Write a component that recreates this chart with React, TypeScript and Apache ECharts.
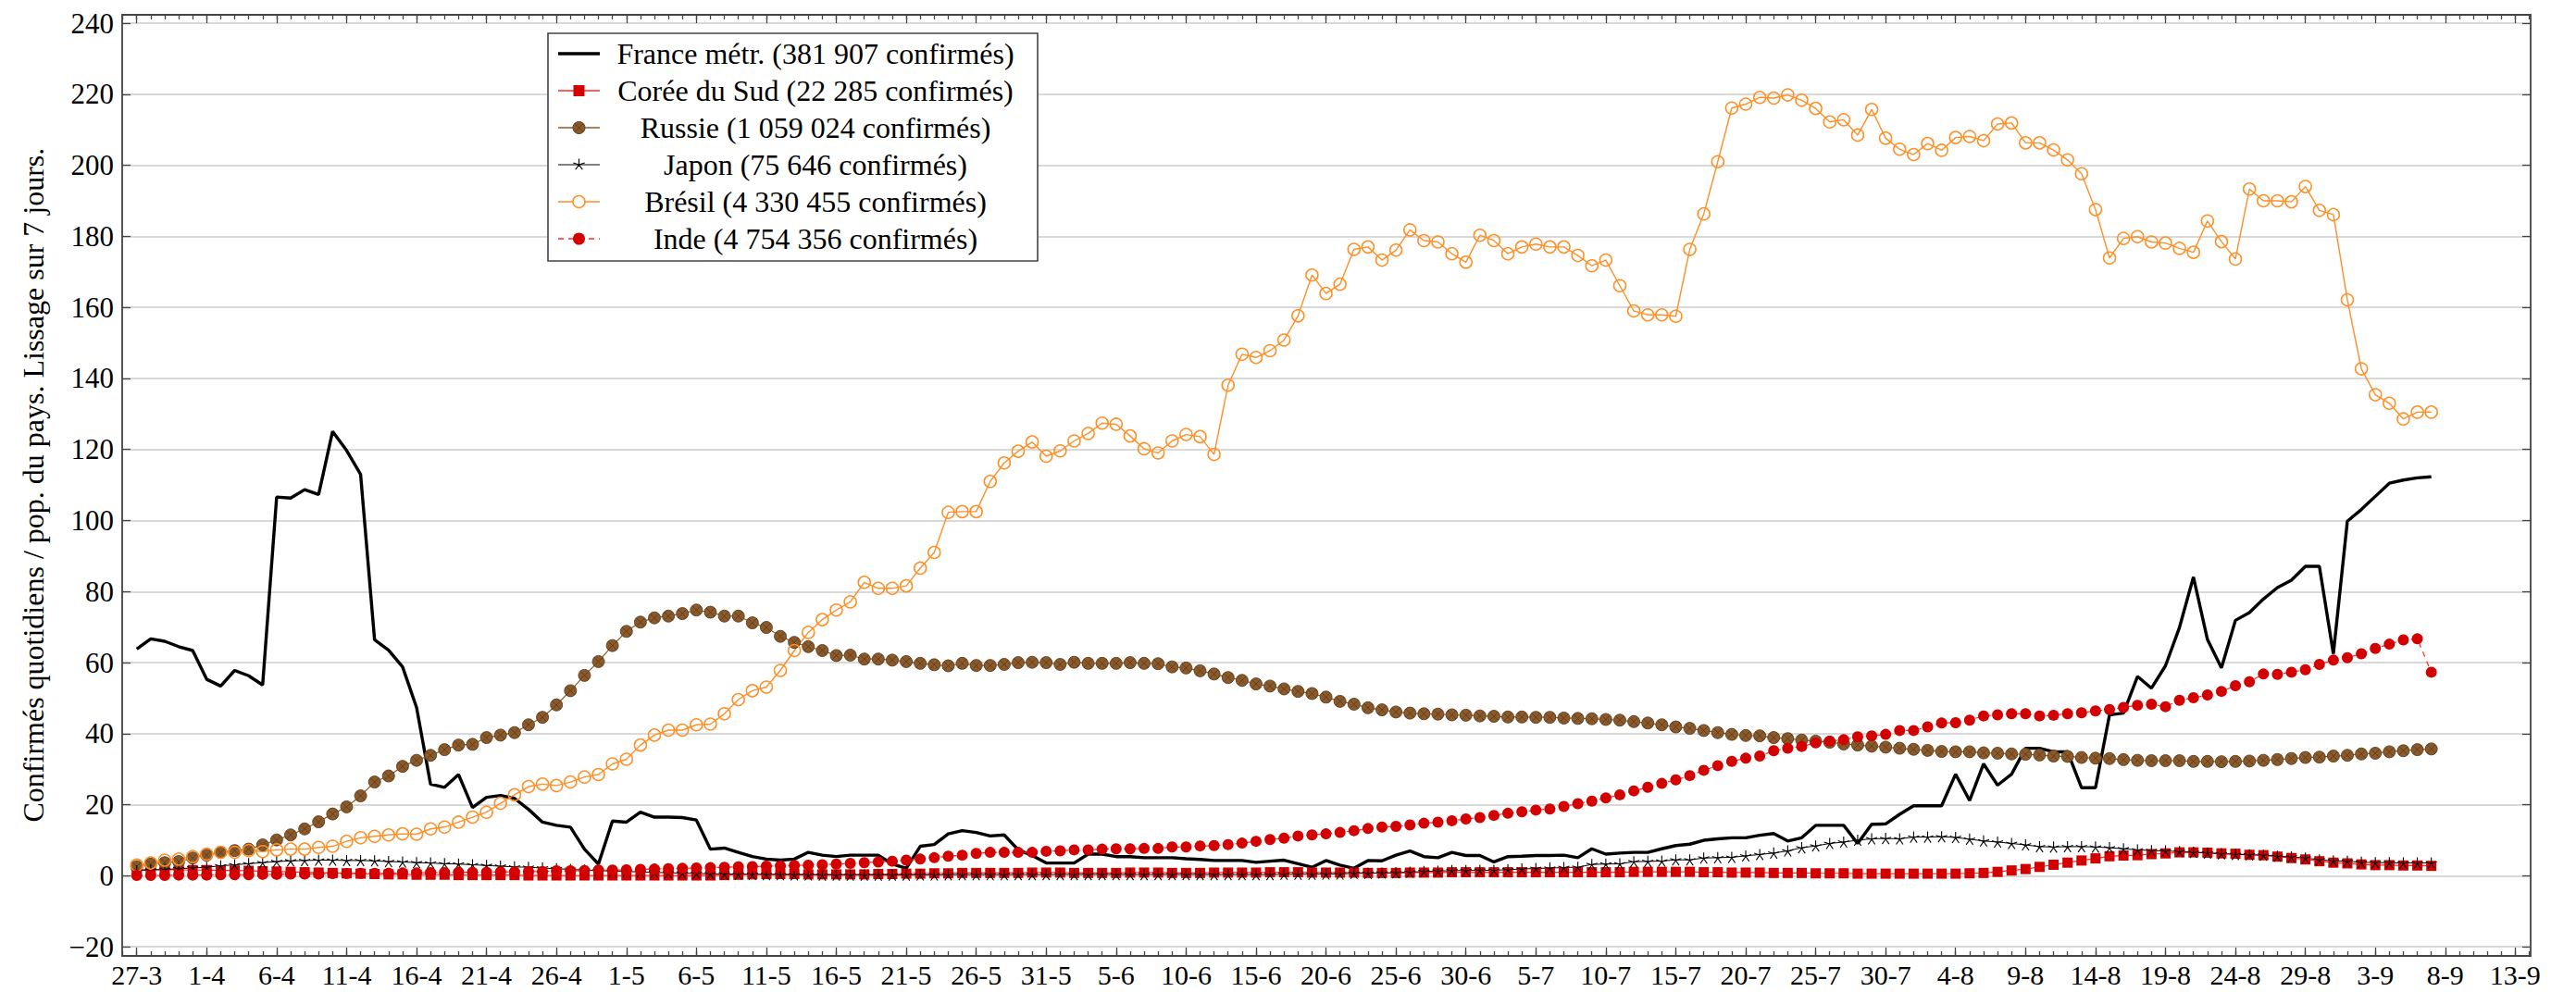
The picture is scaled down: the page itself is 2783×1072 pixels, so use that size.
import React, { useEffect, useRef } from 'react';
import * as echarts from 'echarts';

// ---- Data (day index 0 = 27-3, one value per day) ----
const xTickDays = [0,5,10,15,20,25,30,35,40,45,50,55,60,65,70,75,80,85,90,95,100,105,110,115,120,125,130,135,140,145,150,155,160,165,170];
const xTickLabels = ['27-3','1-4','6-4','11-4','16-4','21-4','26-4','1-5','6-5','11-5','16-5','21-5','26-5','31-5','5-6','10-6','15-6','20-6','25-6','30-6','5-7','10-7','15-7','20-7','25-7','30-7','4-8','9-8','14-8','19-8','24-8','29-8','3-9','8-9','13-9'];

const seriesNames = [
  'France métr. (381 907 confirmés)',
  'Corée du Sud (22 285 confirmés)',
  'Russie (1 059 024 confirmés)',
  'Japon (75 646 confirmés)',
  'Brésil (4 330 455 confirmés)',
  'Inde (4 754 356 confirmés)',
];

const france = [
  63.8,66.7,66.0,64.5,63.4,55.3,53.4,57.8,56.3,53.7,
  106.6,106.3,108.7,107.3,125.1,119.7,113.0,66.4,63.5,58.8,
  47.4,25.8,24.9,28.5,19.2,22.1,22.6,21.8,18.7,15.1,
  14.2,13.7,7.5,3.3,15.4,15.1,17.9,16.5,16.5,16.4,
  15.7,7.5,7.8,6.6,5.4,4.7,4.4,4.7,6.6,5.8,
  5.4,5.8,5.8,5.8,3.3,2.1,8.3,8.8,11.8,12.7,
  12.2,11.2,11.5,7.3,5.7,3.6,3.6,3.6,6.1,6.1,
  5.4,5.4,5.1,5.1,5.1,4.8,4.6,4.3,4.3,4.3,
  3.8,4.1,4.4,3.4,2.4,4.3,3.0,2.1,4.3,4.2,
  5.8,7.0,5.4,5.1,6.6,5.7,5.7,3.9,5.4,5.5,
  5.7,5.7,5.8,5.1,7.6,6.1,6.4,6.6,6.6,7.6,
  8.5,8.9,10.0,10.4,10.7,10.7,11.4,11.9,9.8,10.7,
  14.2,14.2,14.2,9.1,14.5,14.6,17.3,19.7,19.7,19.7,
  28.6,21.2,31.5,25.5,28.6,35.9,35.9,34.9,34.9,24.8,
  24.8,45.3,45.8,56.1,52.8,59.1,69.9,84.1,66.5,58.5,
  71.9,74.1,77.9,81.1,83.2,87.1,87.1,62.5,99.8,103.1,
  106.8,110.5,111.4,112.0,112.3,
];

const coree = [
  1.8,1.8,1.7,1.7,1.6,1.6,1.5,1.5,1.4,1.3,
  1.2,1.1,1.0,0.9,0.8,0.7,0.6,0.5,0.4,0.4,
  0.3,0.3,0.3,0.2,0.2,0.2,0.2,0.2,0.1,0.1,
  0.1,0.1,0.1,0.1,0.1,0.1,0.1,0.1,0.1,0.1,
  0.1,0.1,0.2,0.3,0.4,0.5,0.5,0.5,0.4,0.4,
  0.4,0.4,0.4,0.5,0.5,0.6,0.6,0.7,0.7,0.8,
  0.8,0.8,0.8,0.8,0.9,0.9,0.9,0.8,0.8,0.8,
  0.8,0.9,0.9,0.9,0.8,0.8,0.8,0.9,0.9,0.9,
  0.9,1.0,1.0,1.0,0.9,0.9,0.9,0.9,0.8,0.8,
  0.8,0.9,0.9,0.9,1.0,1.0,1.0,1.0,1.0,1.0,
  1.0,1.0,1.0,1.0,1.0,1.0,1.0,1.1,1.1,1.1,
  1.1,1.1,1.0,1.0,0.9,0.9,0.9,0.8,0.8,0.8,
  0.7,0.7,0.7,0.6,0.6,0.6,0.6,0.6,0.6,0.6,
  0.6,0.7,0.8,1.1,1.5,1.9,2.5,3.1,3.7,4.3,
  4.9,5.5,5.7,5.8,6.1,6.3,6.6,6.6,6.5,6.3,
  6.2,5.9,5.8,5.4,5.0,4.6,4.1,3.7,3.5,3.2,
  3.0,3.0,2.9,2.9,2.8,
];

const russie = [
  2.6,3.3,3.7,4.0,5.0,5.8,6.6,7.1,7.5,8.7,
  10.1,11.5,13.2,15.2,17.4,19.4,22.5,26.4,28.1,30.8,
  32.5,33.9,35.5,36.8,37.0,38.9,39.6,40.3,42.5,44.6,
  48.1,52.1,56.4,60.3,64.8,68.8,71.4,72.6,73.1,73.8,
  74.8,74.2,73.1,73.1,71.2,69.9,67.4,65.7,64.5,63.4,
  62.0,62.1,61.0,61.0,60.7,60.3,59.8,59.4,59.1,59.8,
  59.2,59.2,59.5,60.0,60.1,60.0,59.5,60.1,59.8,59.8,
  59.8,60.0,59.8,59.7,58.8,58.5,57.7,56.8,55.8,55.0,
  54.0,53.4,52.6,51.9,51.3,50.3,49.1,48.3,47.3,46.7,
  46.1,45.8,45.6,45.5,45.3,45.2,45.0,44.9,44.7,44.7,
  44.6,44.6,44.4,44.3,44.2,44.0,43.8,43.4,43.0,42.5,
  41.9,41.5,40.9,40.3,39.8,39.5,39.4,38.9,38.6,38.2,
  37.9,37.6,37.1,36.8,36.5,36.2,35.9,35.6,35.3,35.0,
  34.9,34.9,34.6,34.5,34.3,34.2,34.0,33.7,33.6,33.3,
  33.1,33.0,32.7,32.5,32.4,32.4,32.4,32.2,32.2,32.1,
  32.2,32.3,32.5,32.7,33.0,33.3,33.4,33.7,33.9,34.3,
  34.5,34.9,35.2,35.5,35.7,
];

const japon = [
  1.4,1.6,1.8,2.0,2.2,2.4,2.8,3.1,3.4,3.7,
  4.0,4.2,4.3,4.4,4.4,4.3,4.3,4.2,4.0,3.9,
  3.7,3.6,3.4,3.3,3.1,2.9,2.7,2.5,2.4,2.2,
  2.0,1.8,1.6,1.5,1.3,1.2,1.1,0.95,0.85,0.75,
  0.65,0.55,0.5,0.45,0.4,0.35,0.3,0.28,0.25,0.22,
  0.2,0.2,0.2,0.2,0.2,0.22,0.25,0.25,0.28,0.3,
  0.3,0.3,0.3,0.32,0.32,0.32,0.35,0.35,0.35,0.35,
  0.35,0.35,0.35,0.35,0.35,0.35,0.35,0.34,0.34,0.34,
  0.34,0.34,0.43,0.43,0.43,0.5,0.5,0.7,0.7,0.78,
  0.86,1.03,1.2,1.3,1.47,1.47,1.55,1.55,1.72,1.9,
  2.07,2.16,2.33,2.41,3.2,3.3,3.36,3.97,4.05,4.14,
  4.48,4.48,5.0,5.1,5.2,5.6,6.0,6.4,7.0,7.9,
  8.4,9.1,9.5,10.0,10.4,10.5,10.4,10.9,10.9,11.0,
  10.8,10.3,9.8,9.5,9.1,8.7,8.2,8.1,8.2,8.2,
  8.1,7.9,7.6,7.3,7.1,7.0,6.8,6.6,6.4,6.2,
  6.0,5.9,5.8,5.5,5.3,5.0,4.5,4.2,4.1,3.8,
  3.7,3.7,3.6,3.6,3.6,
];

const bresil = [
  3.0,3.6,4.4,4.7,5.4,6.1,6.6,6.6,7.1,6.8,
  7.3,7.5,7.5,8.0,8.3,9.7,10.7,11.1,11.5,11.8,
  11.7,13.2,13.7,15.1,16.5,17.9,20.4,22.8,25.1,25.8,
  25.4,26.4,27.8,28.5,31.5,32.8,36.8,39.6,41.0,41.0,
  42.5,42.7,45.6,49.6,52.1,53.1,57.8,63.4,68.5,72.1,
  74.8,77.1,82.6,80.9,80.9,81.6,86.6,91.0,102.3,102.5,
  102.5,111.0,116.2,119.5,122.1,118.1,119.6,122.4,124.5,127.4,
  127.1,123.8,120.2,119.0,122.4,124.2,123.6,118.6,138.1,146.8,
  145.9,147.8,150.8,157.6,169.1,163.9,166.5,176.3,177.0,173.3,
  176.1,181.8,178.8,178.4,175.1,172.7,180.3,178.8,175.1,177.0,
  177.8,177.0,177.0,174.6,171.7,173.3,166.1,159.0,157.9,157.9,
  157.5,176.3,186.3,201.0,216.1,217.2,219.1,218.9,219.8,218.3,
  216.0,212.2,212.8,208.5,215.7,207.6,204.5,203.0,206.1,204.2,
  207.8,208.1,206.9,211.6,211.9,206.3,206.3,204.3,201.5,197.6,
  187.5,173.9,179.4,179.9,178.4,178.1,176.6,175.5,184.3,178.5,
  173.6,193.3,190.0,190.0,189.7,194.0,187.3,186.1,162.1,142.7,
  135.4,133.0,128.6,130.5,130.5,
];

const inde = [
  0.1,0.1,0.1,0.2,0.2,0.2,0.3,0.3,0.3,0.4,
  0.4,0.5,0.5,0.5,0.6,0.6,0.7,0.7,0.7,0.8,
  0.8,0.9,0.9,1.0,1.0,1.0,1.1,1.1,1.2,1.2,
  1.4,1.4,1.5,1.6,1.6,1.7,1.8,1.9,2.0,2.1,
  2.2,2.3,2.4,2.5,2.6,2.7,2.8,2.9,3.0,3.1,
  3.3,3.5,3.7,3.9,4.1,4.4,4.7,5.1,5.5,5.8,
  6.3,6.6,6.6,6.6,6.6,6.9,7.0,7.3,7.3,7.5,
  7.6,7.6,7.7,7.7,8.1,8.1,8.4,8.5,8.8,9.2,
  9.7,10.2,10.6,11.2,11.5,11.8,12.2,12.7,13.3,13.7,
  13.9,14.3,14.8,15.1,15.5,16.0,16.4,17.0,17.6,18.0,
  18.5,18.8,19.5,20.3,21.0,21.9,22.8,23.9,24.9,26.0,
  27.0,28.2,29.7,31.0,32.2,33.1,33.7,35.2,35.9,36.4,
  37.4,37.9,38.3,39.1,39.4,39.8,40.9,40.9,41.9,43.0,
  43.1,43.8,45.0,45.3,45.6,45.6,45.0,45.2,45.6,45.9,
  46.4,46.8,47.4,48.0,48.3,47.6,49.4,50.1,50.9,51.9,
  53.5,54.6,56.8,56.7,57.3,58.0,59.5,60.7,61.4,62.5,
  64.0,65.2,66.4,66.7,57.3,
];

// ---- Layout / style ----
const W = 2783;
const H = 1072;
const FRAME = { left: 132, right: 2734, top: 16, bottom: 1033 };
const GRID_TOP = 25;
const GRID_BOTTOM = 1023.2;
const X_MIN = -1.04;
const X_MAX = 171.1;
const FONT = 'Liberation Serif, DejaVu Serif, serif';
const C_FRAME = '#444444';
const C_GRID = '#cccccc';
const C_BROWN = '#8a5a2c';
const C_BROWN_DARK = '#5e3b17';
const C_ORANGE = '#ff8f26';
const C_RED = '#d40000';
const C_RED_LINE = '#ff2a2a';

const STAR_PATH = 'path://M0 -10 L0 0 M9.51 -3.09 L0 0 M5.88 8.09 L0 0 M-5.88 8.09 L0 0 M-9.51 -3.09 L0 0';
const HATCH_CIRCLE = 'path://M10 0 A10 10 0 1 1 -10 0 A10 10 0 1 1 10 0 Z M-7 -7 L7 7 M7 -7 L-7 7';

const toXY = (arr: number[]) => arr.map((v, i) => [i, v]);
const xLabelFor = (v: number) => {
  const i = xTickDays.indexOf(Math.round(v));
  return i >= 0 ? xTickLabels[i] : '';
};
const allDays: number[] = [];
for (let d = -1; d <= 171; d++) allDays.push(d);

function xAxisDef(pos: 'top' | 'bottom', minor: boolean, labels: boolean) {
  return {
    type: 'value',
    position: pos,
    min: X_MIN,
    max: X_MAX,
    offset: pos === 'bottom' ? FRAME.bottom - GRID_BOTTOM : GRID_TOP - FRAME.top,
    axisLine: { show: false, onZero: false },
    splitLine: { show: false },
    axisTick: {
      show: true,
      inside: true,
      length: minor ? 5 : 9,
      customValues: minor ? allDays : xTickDays,
      lineStyle: { color: C_FRAME, width: 1.3 },
    },
    axisLabel: {
      show: labels,
      customValues: xTickDays,
      formatter: (v: number) => xLabelFor(v),
      fontFamily: FONT,
      fontSize: 30,
      color: '#000',
      margin: 5,
      hideOverlap: false,
    },
  };
}

function legendGraphics() {
  const els: any[] = [];
  const bx = 592, by = 36, bw = 529, bh = 246;
  els.push({
    type: 'rect', shape: { x: bx, y: by, width: bw, height: bh },
    style: { fill: '#fff', stroke: C_FRAME, lineWidth: 1.6 }, z: 100,
  });
  const rows = [58, 98, 138, 178, 218, 258];
  const lx1 = 603, lx2 = 648, mx = 625.5, tx = 881;
  const lineStyles = [
    { stroke: '#000', lineWidth: 3.4 },
    { stroke: C_RED_LINE, lineWidth: 1.4 },
    { stroke: C_BROWN, lineWidth: 1.4 },
    { stroke: '#000', lineWidth: 1.2 },
    { stroke: C_ORANGE, lineWidth: 1.6 },
    { stroke: C_RED_LINE, lineWidth: 1.4, lineDash: [6, 5] },
  ];
  rows.forEach((y, i) => {
    els.push({ type: 'line', shape: { x1: lx1, y1: y, x2: lx2, y2: y }, style: lineStyles[i], z: 101 });
    if (i === 1) {
      els.push({ type: 'rect', shape: { x: mx - 6, y: y - 6, width: 12, height: 12 }, style: { fill: C_RED }, z: 102 });
    } else if (i === 2) {
      els.push({ type: 'circle', shape: { cx: mx, cy: y, r: 6.5 }, style: { fill: C_BROWN, stroke: C_BROWN_DARK, lineWidth: 1 }, z: 102 });
      els.push({ type: 'line', shape: { x1: mx - 4.5, y1: y - 4.5, x2: mx + 4.5, y2: y + 4.5 }, style: { stroke: C_BROWN_DARK, lineWidth: 1 }, z: 103 });
      els.push({ type: 'line', shape: { x1: mx + 4.5, y1: y - 4.5, x2: mx - 4.5, y2: y + 4.5 }, style: { stroke: C_BROWN_DARK, lineWidth: 1 }, z: 103 });
    } else if (i === 3) {
      const pts: number[][] = [];
      for (let k = 0; k < 5; k++) {
        const a = (-90 + k * 72) * Math.PI / 180;
        pts.push([mx, y]);
        pts.push([mx + 6.5 * Math.cos(a), y + 6.5 * Math.sin(a)]);
      }
      pts.push([mx, y]);
      els.push({ type: 'polyline', shape: { points: pts }, style: { stroke: '#000', lineWidth: 1.2, fill: null }, z: 102 });
    } else if (i === 4) {
      els.push({ type: 'circle', shape: { cx: mx, cy: y, r: 6.5 }, style: { fill: '#fff', stroke: C_ORANGE, lineWidth: 1.5 }, z: 102 });
    } else if (i === 5) {
      els.push({ type: 'circle', shape: { cx: mx, cy: y, r: 6.5 }, style: { fill: C_RED }, z: 102 });
    }
    els.push({
      type: 'text', x: tx, y, z: 102,
      style: {
        text: seriesNames[i], fontFamily: FONT, fontSize: 32, fill: '#000',
        align: 'center', verticalAlign: 'middle', textAlign: 'center', textVerticalAlign: 'middle',
      },
    });
  });
  return els;
}

export default function App() {
  const ref = useRef<HTMLDivElement>(null);
  useEffect(() => {
    if (!ref.current) return;
    const chart = echarts.init(ref.current, null, { renderer: 'svg' });
    const option: any = {
      animation: false,
      backgroundColor: '#ffffff',
      grid: {
        left: FRAME.left,
        right: W - FRAME.right,
        top: GRID_TOP,
        bottom: H - GRID_BOTTOM,
        containLabel: false,
        outerBoundsMode: 'none',
      },
      xAxis: [
        xAxisDef('bottom', false, true),
        xAxisDef('bottom', true, false),
        xAxisDef('top', false, false),
        xAxisDef('top', true, false),
      ],
      yAxis: [
        {
          type: 'value', position: 'left', min: -20, max: 240, interval: 20,
          name: 'Confirmés quotidiens / pop. du pays. Lissage sur 7 jours.',
          nameLocation: 'middle', nameGap: 80, nameRotate: 90,
          nameTextStyle: { fontFamily: FONT, fontSize: 32, color: '#000' },
          axisLine: { show: false, onZero: false },
          axisTick: { show: true, inside: true, length: 9, lineStyle: { color: C_FRAME, width: 1.3 } },
          splitLine: { show: true, lineStyle: { color: C_GRID, width: 1.5 } },
          axisLabel: {
            fontFamily: FONT, fontSize: 31, color: '#000', margin: 9,
            formatter: (v: number) => (v < 0 ? '\u2212' + Math.abs(v) : String(v)),
          },
        },
        {
          type: 'value', position: 'right', min: -20, max: 240, interval: 20,
          axisLine: { show: false, onZero: false },
          axisTick: { show: true, inside: true, length: 9, lineStyle: { color: C_FRAME, width: 1.3 } },
          splitLine: { show: false },
          axisLabel: { show: false },
        },
      ],
      graphic: [
        {
          type: 'rect', z: 50, silent: true,
          shape: { x: FRAME.left, y: FRAME.top, width: FRAME.right - FRAME.left, height: FRAME.bottom - FRAME.top },
          style: { fill: null, stroke: C_FRAME, lineWidth: 1.8 },
        },
        ...legendGraphics(),
      ],
      series: [
        {
          name: seriesNames[0], type: 'line', data: toXY(france), symbol: 'none',
          lineStyle: { color: '#000', width: 3.4 }, itemStyle: { color: '#000' },
        },
        {
          name: seriesNames[1], type: 'line', data: toXY(coree), symbol: 'rect', symbolSize: 11, showAllSymbol: true,
          lineStyle: { color: C_RED_LINE, width: 1.2 }, itemStyle: { color: C_RED },
        },
        {
          name: seriesNames[2], type: 'line', data: toXY(russie), symbol: HATCH_CIRCLE, symbolSize: 13, showAllSymbol: true,
          lineStyle: { color: C_BROWN, width: 1.2 },
          itemStyle: { color: C_BROWN, borderColor: C_BROWN_DARK, borderWidth: 0.9 },
        },
        {
          name: seriesNames[3], type: 'line', data: toXY(japon), symbol: STAR_PATH, symbolSize: 12, showAllSymbol: true,
          lineStyle: { color: '#000', width: 1 },
          itemStyle: { color: '#000', borderColor: '#000', borderWidth: 1.1 },
        },
        {
          name: seriesNames[4], type: 'line', data: toXY(bresil), symbol: 'circle', symbolSize: 13, showAllSymbol: true,
          lineStyle: { color: C_ORANGE, width: 1.4 },
          itemStyle: { color: 'rgba(255,255,255,0)', borderColor: C_ORANGE, borderWidth: 1.5 },
        },
        {
          name: seriesNames[5], type: 'line', data: toXY(inde), symbol: 'circle', symbolSize: 12, showAllSymbol: true,
          lineStyle: { color: C_RED_LINE, width: 1.2, type: [6, 5] },
          itemStyle: { color: C_RED },
        },
      ],
    };
    chart.setOption(option);
    return () => chart.dispose();
  }, []);
  return <div ref={ref} style={{ position: 'absolute', left: 0, top: 0, width: W, height: H }} />;
}
